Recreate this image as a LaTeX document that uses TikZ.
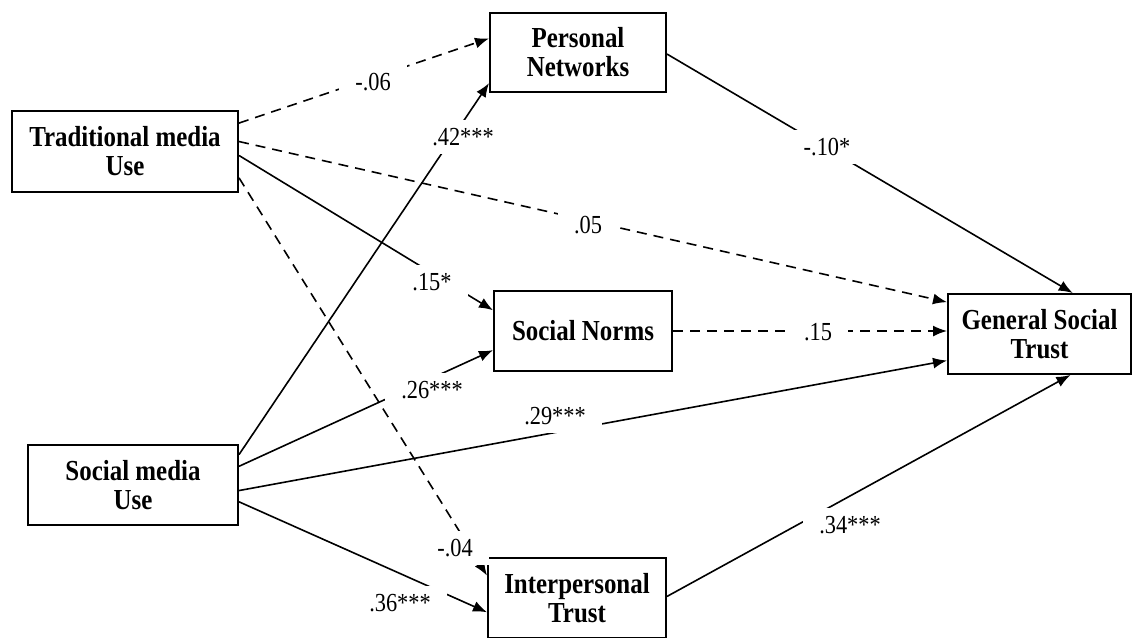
\documentclass[tikz,border=0pt]{standalone}
\usepackage{fontspec}
\setmainfont{Liberation Serif}
\newfontfamily\boxfont{Liberation Serif}[FakeStretch=0.86]
\newfontfamily\coeffont{Liberation Serif}[FakeStretch=0.86]
\usetikzlibrary{arrows.meta}
\tikzstyle{block} = [draw, rectangle, line width=1pt, align=center, inner sep=0pt, font=\boxfont\fontsize{14.5}{14.5}\selectfont\bfseries]
\tikzstyle{effect} = [line width=0.8pt, -{Latex[length=7pt,width=5.5pt]}]
\tikzstyle{nseffect} = [effect, dash pattern=on 5pt off 3.5pt]
\tikzstyle{coef} = [fill=white, inner xsep=8pt, inner ysep=4pt, font=\coeffont\fontsize{13}{15}\selectfont]

\begin{document}
\begin{tikzpicture}[x=0.5pt, y=-0.5pt]
        \useasboundingbox (0,0) rectangle (1134,637);
        % predictors
        \node [block, minimum width=113pt, minimum height=40.5pt] (trad) at (125,151.5) {Traditional media\\Use};
        \node [block, minimum width=105pt, minimum height=40pt] (social) at (133,485) {Social media\\Use};
        % mediators
        \node [block, minimum width=88pt, minimum height=39.5pt] (networks) at (578,52.5) {Personal\\Networks};
        \node [block, minimum width=89pt, minimum height=40pt] (norms) at (583,331) {Social Norms};
        \node [block, minimum width=89pt, minimum height=40pt] (interp) at (577,598) {Interpersonal\\Trust};
        % outcome
        \node [block, minimum width=91.5pt, minimum height=40pt] (general) at (1039.5,334) {General Social\\Trust};
        % paths from traditional media use
        \draw [nseffect] (trad.14) -- (networks.171);
        \draw [nseffect] (trad.5) -- (general.161);
        \draw [effect] (trad.-2) -- (norms.167);
        \draw [nseffect] (trad.-13) -- (interp.166);
        % paths from social media use
        \draw [effect] (social.16) -- (networks.-161);
        \draw [effect] (social.10) -- (norms.-168);
        \draw [effect] (social.-3) -- (general.-164);
        \draw [effect] (social.-9) -- (interp.-171);
        % paths to general social trust
        \draw [effect] (networks.-1) -- (general.51);
        \draw [nseffect] (norms.east) -- (norms.east -| general.west);
        \draw [effect] (interp.1) -- (general.-53);
        % coefficients
        \node [coef] (c1) at (373,82) {-.06};
        \node [coef] (c2) at (588,225) {.05};
        \node [coef] (c3) at (432,282) {.15*};
        \node [coef] (c4) at (455,548) {-.04};
        \node [coef] (c5) at (463,137) {.42***};
        \node [coef] (c6) at (432,390) {.26***};
        \node [coef] (c7) at (555,416) {.29***};
        \node [coef] (c8) at (400,603) {.36***};
        \node [coef] (c9) at (827,147) {-.10*};
        \node [coef] (c10) at (818,332) {.15};
        \node [coef] (c11) at (850,525) {.34***};
    \end{tikzpicture}
\end{document}
